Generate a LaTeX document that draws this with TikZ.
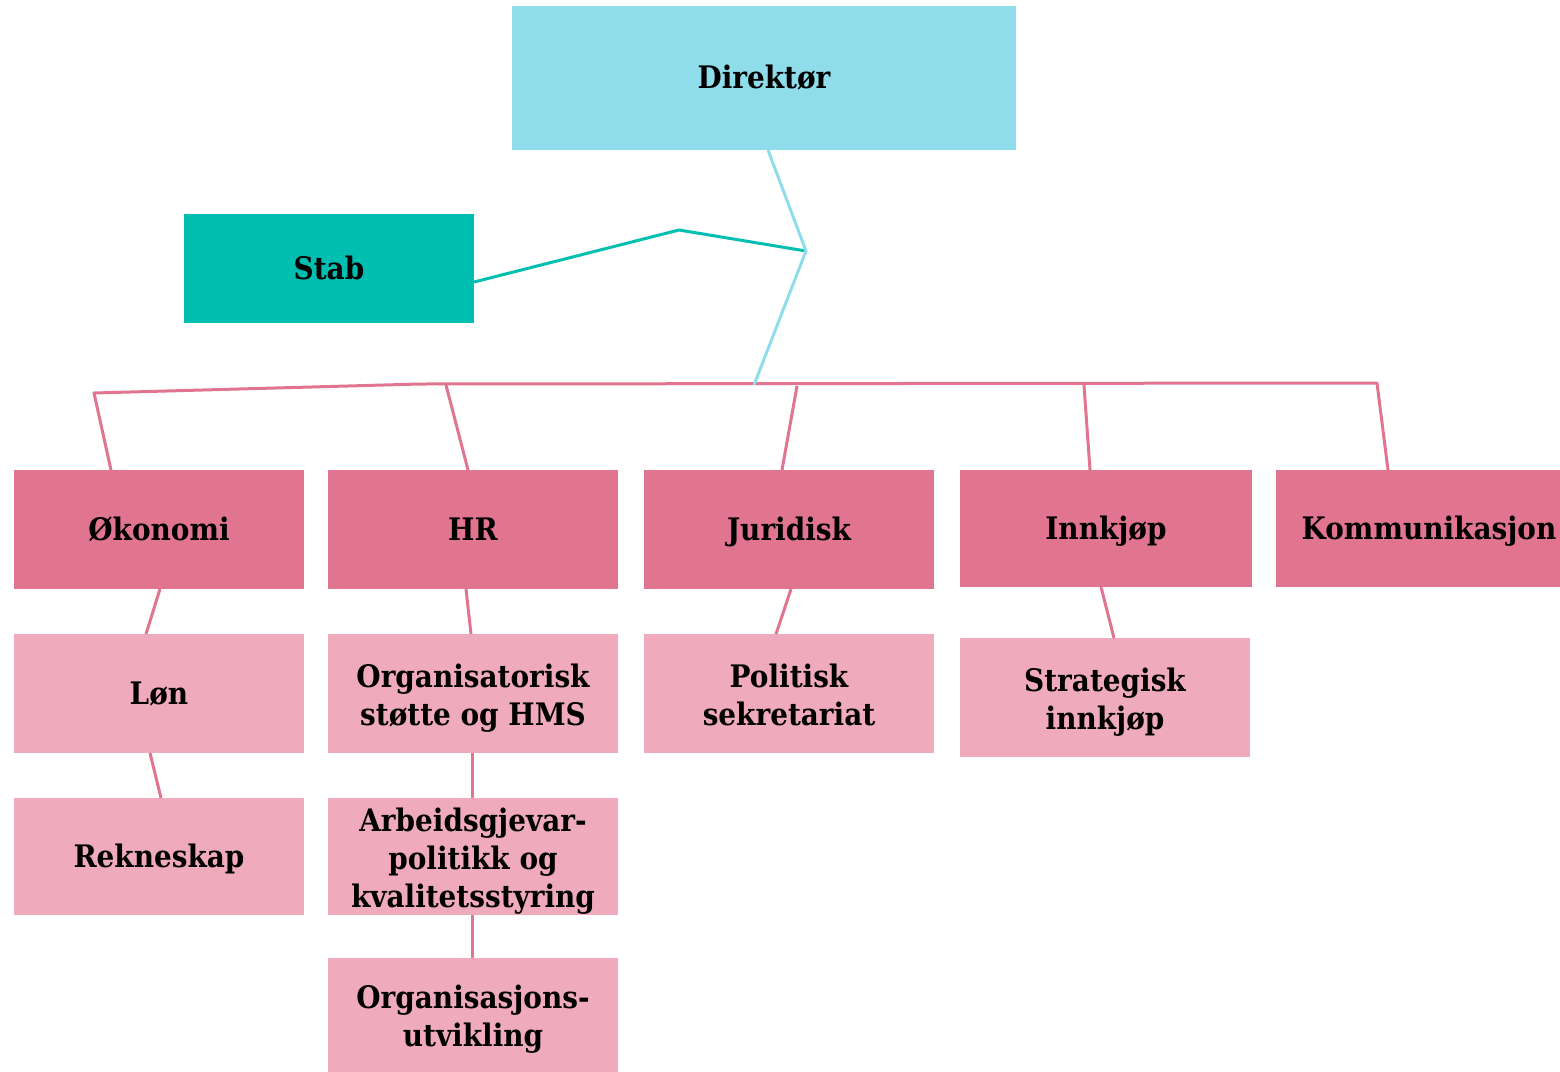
\documentclass[tikz,border=0pt]{standalone}
\usepackage{fontspec}
\setmainfont{DejaVu Serif}[FakeStretch=0.9]
\usetikzlibrary{calc}
\definecolor{cyanbox}{HTML}{8FDCEA}
\definecolor{tealbox}{HTML}{00BFB0}
\definecolor{dkpink}{HTML}{E1748F}
\definecolor{ltpink}{HTML}{EFABBB}
\newcommand\boxlines[1]{\raisebox{-2.5pt}[\height][\depth]{\begin{tabular}{@{}c@{}}#1\end{tabular}}}
\tikzset{
  box/.style={inner sep=0pt, outer sep=0pt, align=center, text=black,
    font=\fontsize{15.5}{19}\selectfont\bfseries},
  one/.style={text height=13pt, text depth=2.5pt},
  dk/.style={box, fill=dkpink},
  lt/.style={box, fill=ltpink},
  wsm/.style={minimum width=145pt},
  conn/.style={line width=1.5pt, line join=round},
  pinkline/.style={conn, draw=dkpink},
}
\begin{document}
\begin{tikzpicture}[x=0.5pt, y=-0.5pt]
\useasboundingbox (0,0) rectangle (1560,1072);
% nodes
\node[box, one, fill=cyanbox, minimum width=252pt, minimum height=72pt] (dir) at (764,78) {Direktør};
\node[box, one, fill=tealbox, wsm, minimum height=54.5pt] (stab) at (329,268.5) {Stab};
\node[dk, one, wsm, minimum height=59.5pt] (oko) at (159,529.5) {Økonomi};
\node[dk, one, wsm, minimum height=59.5pt] (hr) at (473,529.5) {HR};
\node[dk, one, wsm, minimum height=59.5pt] (jur) at (789,529.5) {Juridisk};
\node[dk, one, minimum width=146pt, minimum height=58.5pt] (inn) at (1106,528.5) {Innkjøp};
\node[dk, one, minimum width=153pt, minimum height=58.5pt] (kom) at (1429,528.5) {Kommunikasjon};
\node[lt, one, wsm, minimum height=59.5pt] (lon) at (159,693.5) {Løn};
\node[lt, one, wsm, minimum height=58.5pt] (rek) at (159,856.5) {Rekneskap};
\node[lt, wsm, minimum height=59.5pt] (org) at (473,693.5) {\boxlines{Organisatorisk\\støtte og HMS}};
\node[lt, wsm, minimum height=58.5pt] (arb) at (473,856.5) {\boxlines{Arbeidsgjevar-\\politikk og\\kvalitetsstyring}};
\node[lt, wsm, minimum height=57pt] (orgu) at (473,1015) {\boxlines{Organisasjons-\\utvikling}};
\node[lt, wsm, minimum height=59.5pt] (pol) at (789,693.5) {\boxlines{Politisk\\sekretariat}};
\node[lt, wsm, minimum height=59.5pt] (str) at (1105,697.5) {\boxlines{Strategisk\\innkjøp}};
% junction coordinates
\coordinate (c1) at (806,251);
\coordinate (c2) at (754,385);
\coordinate (t1) at (679,230);
\coordinate (b1) at (94,393);
\coordinate (b2) at (420,384);
\coordinate (b3) at (1377,383);
\coordinate (bhr) at (446,385);
\coordinate (bjur) at (797,386);
\coordinate (binn) at (1084,385);
% pink bus and drops
\draw[pinkline] ($(oko.north)+(-48,0)$) -- (b1) -- (b2) -- (b3) -- ($(kom.north)+(-41,0)$);
\draw[pinkline] (bhr) -- ($(hr.north)+(-5,0)$);
\draw[pinkline] (bjur) -- ($(jur.north)+(-7,0)$);
\draw[pinkline] (binn) -- ($(inn.north)+(-16,0)$);
% sub connectors
\draw[pinkline] ($(oko.south)+(1,0)$) -- ($(lon.north)+(-13,0)$);
\draw[pinkline] ($(lon.south)+(-9,0)$) -- ($(rek.north)+(2,0)$);
\draw[pinkline] ($(hr.south)+(-7,0)$) -- ($(org.north)+(-2,0)$);
\draw[pinkline] ($(org.south)+(-1,0)$) -- ($(arb.north)+(-1,0)$);
\draw[pinkline] ($(arb.south)+(-1,0)$) -- ($(orgu.north)+(-1,0)$);
\draw[pinkline] ($(jur.south)+(2,0)$) -- ($(pol.north)+(-13,0)$);
\draw[pinkline] ($(inn.south)+(-5,0)$) -- ($(str.north)+(9,0)$);
% teal and cyan
\draw[conn, draw=tealbox] ($(stab.east)+(0,13.5)$) -- (t1) -- (c1);
\draw[conn, draw=cyanbox] ($(dir.south)+(4,0)$) -- (c1) -- (c2);
\end{tikzpicture}
\end{document}
